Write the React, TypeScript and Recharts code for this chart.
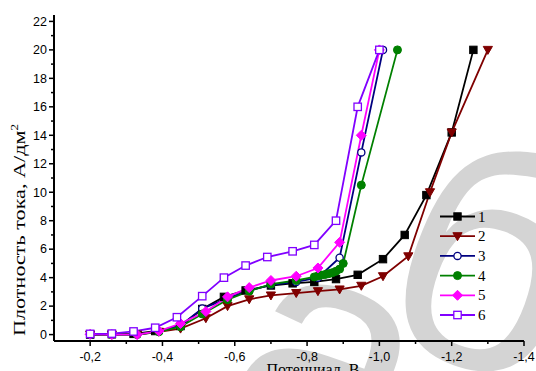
import React from 'react'
import { LineChart, Line, XAxis, YAxis } from 'recharts'

// потенциал (В) и плотность тока (А/дм²) для шести кривых
const x1 = [-0.2, -0.26, -0.32, -0.38, -0.45, -0.51, -0.57, -0.63, -0.7, -0.76, -0.82, -0.88, -0.94, -1.01, -1.07, -1.13, -1.2, -1.26]
const y1 = [0, 0.02, 0.05, 0.25, 0.6, 1.8, 2.65, 3.1, 3.45, 3.6, 3.7, 3.9, 4.2, 5.3, 7.0, 9.8, 14.2, 20]

const x2 = [-0.2, -0.26, -0.33, -0.39, -0.45, -0.52, -0.58, -0.64, -0.7, -0.77, -0.83, -0.89, -0.95, -1.01, -1.08, -1.14, -1.2, -1.3]
const y2 = [0, 0, 0, 0.2, 0.42, 1.15, 2.0, 2.48, 2.75, 2.92, 3.05, 3.17, 3.43, 4.1, 5.5, 10.0, 14.2, 20]

const x3 = [-0.2, -0.26, -0.33, -0.39, -0.45, -0.51, -0.58, -0.64, -0.7, -0.77, -0.83, -0.89, -0.95, -1.01]
const y3 = [0, 0, 0, 0.22, 0.65, 1.83, 2.55, 3.1, 3.5, 3.7, 4.0, 5.4, 12.8, 20]

const x4 = [-0.2, -0.26, -0.33, -0.39, -0.45, -0.51, -0.58, -0.64, -0.7, -0.77, -0.82, -0.83, -0.84, -0.85, -0.86, -0.87, -0.88, -0.89, -0.9, -0.95, -1.05]
const y4 = [0, 0, 0, 0.2, 0.55, 1.45, 2.45, 3.05, 3.55, 3.8, 4.05, 4.12, 4.18, 4.22, 4.28, 4.35, 4.45, 4.6, 5.0, 10.5, 20]

const x5 = [-0.2, -0.26, -0.33, -0.39, -0.45, -0.52, -0.58, -0.64, -0.7, -0.77, -0.83, -0.89, -0.95, -1.0]
const y5 = [0.02, 0, 0, 0.25, 0.78, 1.62, 2.65, 3.3, 3.8, 4.1, 4.68, 6.48, 14.0, 20]

const x6 = [-0.2, -0.26, -0.32, -0.38, -0.44, -0.51, -0.57, -0.63, -0.69, -0.76, -0.82, -0.88, -0.94, -1.0]
const y6 = [0.05, 0.07, 0.22, 0.48, 1.22, 2.7, 4.0, 4.85, 5.45, 5.85, 6.3, 8.0, 16.0, 20]

const seriesNames = ['1', '2', '3', '4', '5', '6']
const xTicks = [-0.2, -0.3, -0.4, -0.5, -0.6, -0.7, -0.8, -0.9, -1.0, -1.1, -1.2, -1.3, -1.4]
const yTicks = Array.from({ length: 23 }, (_, i) => i)

const W = 536
const H = 371
const TICK_FONT = 'Liberation Sans, Arial, sans-serif'
const SERIF = 'Liberation Serif, Times New Roman, serif'

type Shape = 'square' | 'triangle' | 'circle' | 'diamond'

const SERIES = [
    { x: x1, y: y1, color: '#000000', shape: 'square' as Shape, open: false },
    { x: x2, y: y2, color: '#7f0000', shape: 'triangle' as Shape, open: false },
    { x: x3, y: y3, color: '#000080', shape: 'circle' as Shape, open: true },
    { x: x4, y: y4, color: '#008000', shape: 'circle' as Shape, open: false },
    { x: x5, y: y5, color: '#ff00ff', shape: 'diamond' as Shape, open: false },
    { x: x6, y: y6, color: '#8000ff', shape: 'square' as Shape, open: true },
]

function Marker({ cx, cy, shape, color, open }: { cx: number; cy: number; shape: Shape; color: string; open: boolean }) {
    const fill = open ? '#ffffff' : color
    const sw = open ? 1.3 : 1
    if (shape === 'square') {
        return <rect x={cx - 3.7} y={cy - 3.7} width={7.4} height={7.4} fill={fill} stroke={color} strokeWidth={sw} />
    }
    if (shape === 'triangle') {
        return <path d={`M${cx - 4.6},${cy - 3.5}L${cx + 4.6},${cy - 3.5}L${cx},${cy + 4.5}Z`} fill={fill} stroke={color} strokeWidth={sw} />
    }
    if (shape === 'diamond') {
        return <path d={`M${cx},${cy - 5}L${cx + 5},${cy}L${cx},${cy + 5}L${cx - 5},${cy}Z`} fill={fill} stroke={color} strokeWidth={sw} />
    }
    return <circle cx={cx} cy={cy} r={open ? 3.6 : 4} fill={fill} stroke={color} strokeWidth={sw} />
}

function makeDot(shape: Shape, color: string, open: boolean) {
    return (props: any) => {
        const { cx, cy, index } = props
        if (cx == null || cy == null) return <g key={`d-${index}`} />
        return <Marker key={`d-${index}`} cx={cx} cy={cy} shape={shape} color={color} open={open} />
    }
}

function XTick(props: any) {
    const { x, y, payload } = props
    const v = payload.value
    const major = Math.abs(Math.round(v * 10)) % 2 === 0
    return (
        <g>
            <line x1={x} x2={x} y1={y} y2={y + (major ? 5 : 3)} stroke="#000" strokeWidth={1.5} />
            {major && (
                <text x={x} y={y + 20} textAnchor="middle" fontFamily={TICK_FONT} fontSize={12.5} fill="#000">
                    {v.toFixed(1).replace('.', ',')}
                </text>
            )}
        </g>
    )
}

function YTick(props: any) {
    const { x, y, payload } = props
    const v = payload.value
    const major = v % 2 === 0
    return (
        <g>
            <line x1={x} x2={x - (major ? 5 : 3)} y1={y} y2={y} stroke="#000" strokeWidth={1.5} />
            {major && (
                <text x={x - 7} y={y + 4.3} textAnchor="end" fontFamily={TICK_FONT} fontSize={12.5} fill="#000">
                    {v}
                </text>
            )}
        </g>
    )
}

export default function App() {
    const lines = SERIES.map((s) => s.x.map((x, i) => ({ x, y: s.y[i] })))

    return (
        <div style={{ position: 'absolute', left: 0, top: 0, width: W, height: H, background: '#fff', overflow: 'hidden' }}>
            {/* водяной знак */}
            <svg width={W} height={H} style={{ position: 'absolute', left: 0, top: 0 }}>
                <g fontFamily={TICK_FONT} fontSize={320} fill="#d4d4d4">
                    <text x={212} y={423} transform="rotate(20 212 423)">а</text>
                    <text x={366} y={330} transform="rotate(20 366 330)">б</text>
                </g>
            </svg>

            <div style={{ position: 'absolute', left: 0, top: 0 }}>
                <LineChart width={W} height={H} margin={{ top: 15, right: 12, bottom: 0, left: 0 }}>
                    <XAxis
                        type="number"
                        dataKey="x"
                        domain={[-1.4, -0.1]}
                        reversed
                        ticks={xTicks}
                        interval={0}
                        height={30}
                        tickLine={false}
                        tickSize={0}
                        tickMargin={0}
                        axisLine={{ stroke: '#000', strokeWidth: 2 }}
                        tick={<XTick />}
                        allowDataOverflow
                    />
                    <YAxis
                        type="number"
                        domain={[-0.45, 22.45]}
                        ticks={yTicks}
                        interval={0}
                        width={54}
                        tickLine={false}
                        tickSize={0}
                        tickMargin={0}
                        axisLine={{ stroke: '#000', strokeWidth: 2 }}
                        tick={<YTick />}
                        allowDataOverflow
                    />
                    {SERIES.map((s, i) => (
                        <Line
                            key={seriesNames[i]}
                            data={lines[i]}
                            dataKey="y"
                            name={seriesNames[i]}
                            stroke={s.color}
                            strokeWidth={1.8}
                            dot={makeDot(s.shape, s.color, s.open)}
                            activeDot={false}
                            isAnimationActive={false}
                        />
                    ))}
                </LineChart>
            </div>

            {/* подписи осей и легенда */}
            <svg width={W} height={H} style={{ position: 'absolute', left: 0, top: 0, pointerEvents: 'none' }}>
                <text
                    transform="translate(25 230) rotate(-90)"
                    textAnchor="middle"
                    fontFamily={SERIF}
                    fontSize={17}
                    fill="#000"
                    textLength={212}
                    lengthAdjust="spacingAndGlyphs"
                >
                    Плотность тока, А/дм<tspan dy={-7} fontSize={10}>2</tspan>
                </text>
                <text x={313} y={375} textAnchor="middle" fontFamily={SERIF} fontSize={16} fill="#000">
                    Потенциал, В
                </text>
                {SERIES.map((s, i) => {
                    const ly = 216.5 + i * 19.7
                    return (
                        <g key={i}>
                            <line x1={440} x2={475} y1={ly} y2={ly} stroke={s.color} strokeWidth={1.8} />
                            <Marker cx={457.5} cy={ly} shape={s.shape} color={s.color} open={s.open} />
                            <text x={478} y={ly + 5} fontFamily={SERIF} fontSize={15} fill="#000">
                                {seriesNames[i]}
                            </text>
                        </g>
                    )
                })}
            </svg>
        </div>
    )
}
